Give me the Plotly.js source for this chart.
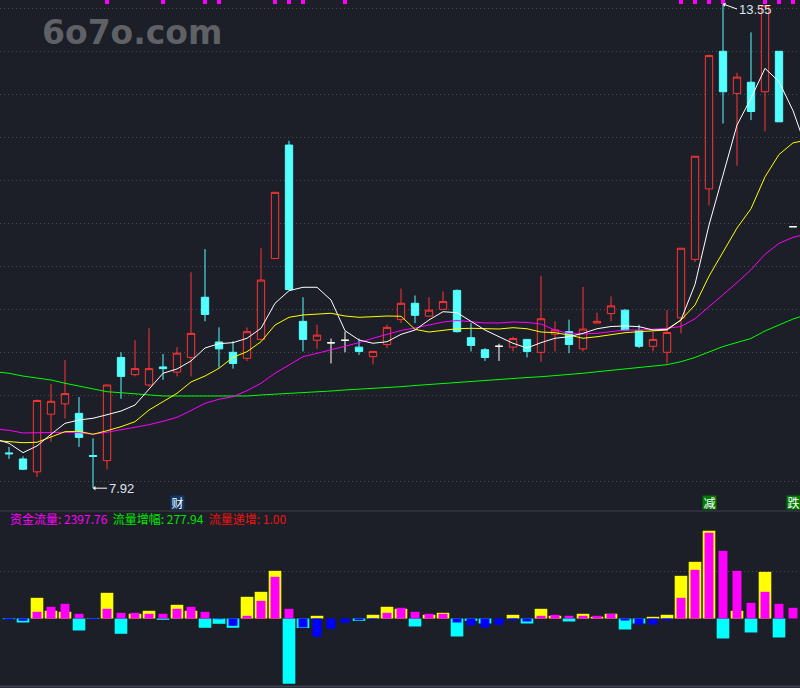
<!DOCTYPE html>
<html><head><meta charset="utf-8">
<script src="https://cdn.plot.ly/plotly-3.0.1.min.js"></script>
<style>html,body{margin:0;padding:0;background:#1c1f27;}#chart{width:800px;height:688px;}</style>
</head><body><div id="chart"></div>
<script>
// ---------- data ----------
const days = [0,1,2,3,4,5,6,7,8,9,10,11,12,13,14,15,16,17,18,19,20,21,22,23,24,25,26,27,28,29,30,31,32,33,34,35,36,37,38,39,40,41,42,43,44,45,46,47,48,49,50,51,52,53,54,55,56];
const open  = [8.33,8.26,8.11,8.78,8.90,8.79,8.30,8.24,9.44,9.24, 9.12,9.33,9.27,9.44,10.14,9.62,9.50,9.43,9.65,10.59, 11.91,9.86,9.64,9.61,9.64,9.56,9.45,9.59,9.88,10.07, 9.92,10.00,10.22,9.67,9.53,9.57,9.56,9.65,9.50,9.71, 9.74,9.54,9.84,9.95,9.99,9.75,9.57,9.50,9.90,10.58, 11.40,13.00,12.51,12.64,12.53,13.00,10.96];
const high  = [8.40,8.29,8.95,9.13,9.41,8.98,8.50,9.12,9.50,9.64, 9.78,9.48,9.56,10.43,10.70,9.79,9.63,9.79,10.71,11.36, 11.96,10.14,9.82,9.66,9.74,9.66,9.51,9.82,10.24,10.16, 10.14,10.21,10.23,9.84,9.55,9.60,9.68,9.65,10.39,9.86, 9.88,10.26,9.96,10.15,10.00,9.82,9.74,9.99,10.71,11.78, 12.96,13.55,12.75,13.22,13.53,13.00,10.96];
const low   = [8.26,8.13,8.05,8.46,8.73,8.40,7.92,8.14,8.96,9.22, 9.10,9.18,9.22,9.22,9.86,9.32,9.31,9.40,9.64,10.59, 10.22,9.51,9.54,9.37,9.50,9.47,9.36,9.55,9.84,9.84, 9.92,10.00,9.73,9.51,9.40,9.40,9.51,9.44,9.39,9.51, 9.49,9.51,9.84,9.86,9.76,9.55,9.51,9.37,9.72,10.55, 11.21,12.16,11.67,12.20,12.07,12.18,10.96];
const close = [8.32,8.14,8.94,8.93,9.02,8.51,8.29,9.12,9.22,9.31, 9.31,9.31,9.49,9.72,9.94,9.54,9.37,9.74,10.34,11.36, 10.23,9.65,9.70,9.61,9.64,9.51,9.51,9.79,10.07,9.93, 9.99,10.09,9.74,9.58,9.44,9.57,9.66,9.51,9.89,9.76, 9.59,9.77,9.86,10.04,9.76,9.57,9.65,9.73,10.71,11.78, 12.95,12.53,12.70,12.30,13.53,12.18,10.96];

// moving averages (days -1 .. 57, ends run off the chart edges)
const maDays = [-1,0,1,2,3,4,5,6,7,8,9,10,11,12,13,14,15,16,17,18,19,20,21,22,23,24,25,26,27,28,29,30,31,32,33,34,35,36,37,38,39,40,41,42,43,44,45,46,47,48,49,50,51,52,53,54,55,56,57];
const ma5  = [8.492,8.442,8.333,8.411,8.547,8.674,8.713,8.733,8.774,8.817, 8.887,9.07,9.256,9.306,9.399,9.550,9.600,9.612,9.663,9.779, 10.070,10.216,10.256,10.256,10.108,9.751,9.643,9.605,9.623,9.709, 9.759,9.876,9.972,9.961,9.856,9.759,9.681,9.605,9.550,9.612, 9.663,9.681,9.721,9.774,9.800,9.806,9.798,9.759,9.767,9.876, 10.29,10.98,11.56,12.143,12.454,12.802,12.647,12.31,11.852];
const ma10 = [8.474,8.465,8.449,8.454,8.512,8.577,8.581,8.547,8.588,8.635, 8.693,8.829,8.926,9.023,9.155,9.224,9.314,9.442,9.507,9.623, 9.817,9.907,9.934,9.945,9.954,9.922,9.907,9.914,9.922,9.919, 9.767,9.736,9.756,9.774,9.779,9.771,9.771,9.786,9.774,9.736, 9.728,9.701,9.663,9.681,9.709,9.728,9.740,9.748,9.759,9.876, 10.05,10.385,10.665,10.945,11.17,11.54,11.80,11.935,11.969];
const ma20 = [8.608,8.593,8.562,8.565,8.562,8.570,8.565,8.547,8.570,8.597, 8.623,8.658,8.698,8.744,8.823,8.907,8.954,8.984,9.054,9.140, 9.256,9.352,9.449,9.488,9.527,9.565,9.612,9.663,9.709,9.754, 9.783,9.817,9.852,9.870,9.858,9.841,9.841,9.852,9.847,9.829, 9.759,9.719,9.713,9.721,9.740,9.759,9.759,9.767,9.779,9.80, 9.89,10.030,10.165,10.31,10.46,10.64,10.767,10.837,10.876];
const ma60 = [9.274,9.256,9.224,9.205,9.178,9.140,9.108,9.070,9.042,9.030, 9.015,9.000,8.992,8.992,8.988,8.992,8.992,8.992,8.992,9.004, 9.012,9.023,9.035,9.042,9.050,9.062,9.070,9.077,9.088,9.100, 9.114,9.126,9.137,9.149,9.163,9.178,9.190,9.198,9.207,9.216, 9.228,9.240,9.256,9.274,9.291,9.306,9.321,9.335,9.356,9.391, 9.440,9.504,9.567,9.614,9.661,9.748,9.814,9.887,9.940];

// lower panel: fund flow (wide bars) and flow change (narrow bars)
const flowWide   = [-157,-896,4637,1725,1501,-2688,-112,5757,-3427,1053, 1725,-291,3069,1725,-2083,-1187,-2083,4861,5981,10685, -14627,-2128,605,0,0,-515,829,2621,2173,-1792, 829,1277,-4032,-515,-1120,0,829,-1120,2173,605, -672,1053,381,1053,-2464,-1120,381,829,9565,12701, 19645,-4480,1725,-3136,10461,-4256,0];
const flowNarrow = [-336,-515,1501,2621,3293,1053,-224,2173,1277,1277, 1053,1053,2173,2621,1501,-157,-1635,605,3965,9341, 2173,-2016,-4099,-2307,-963,-381,-224,1277,2397,1501, 1053,1053,-896,-1568,-2016,-1411,-448,-672,605,829, 605,605,605,1053,-448,-1344,-1344,-448,4637,10909, 19197,15165,10685,3517,5981,3293,2397.76];
const flowGrowth = 277.94;
const flowIncrement = 1.00;

// signals
const signalDays = [7,11,14,15,19,20,21,24,48,49,50,51,54,55,56];
const tagDays  = [12,50,56];
const tagTexts = ['财','减','跌'];
const hiDay = 51, loDay = 6;

// ---------- styles ----------
const BG='#1c1f27', RED='#ff3434', CYAN='#54ffff', GRID='#4a4e58';
const H=688, SPLIT=511;

function pick(idx, arr){ return idx.map(i=>arr[i]); }
const upIdx   = days.filter(i=>close[i]>open[i]);
const downIdx = days.filter(i=>close[i]<open[i]);
const flatIdx = days.filter(i=>close[i]===open[i]);

function candle(idx, lineColor, fill){
  return {type:'candlestick', x:pick(idx,days), open:pick(idx,open), high:pick(idx,high), low:pick(idx,low), close:pick(idx,close),
    increasing:{line:{color:lineColor,width:1},fillcolor:fill}, decreasing:{line:{color:lineColor,width:1},fillcolor:fill},
    whiskerwidth:0, hoverinfo:'skip', showlegend:false, xaxis:'x', yaxis:'y'};
}
function maLine(y,color){
  return {type:'scatter',mode:'lines',x:maDays,y:y,line:{color:color,width:1},hoverinfo:'skip',showlegend:false,xaxis:'x',yaxis:'y'};
}

const traces = [
  candle(upIdx, RED, BG),
  candle(downIdx, CYAN, CYAN),
  candle(flatIdx, '#ffffff', '#ffffff'),
  maLine(ma60,'#00ff00'),
  maLine(ma20,'#ff00ff'),
  maLine(ma10,'#ffff00'),
  maLine(ma5,'#ffffff'),
  {type:'scatter',mode:'markers',x:signalDays,y:signalDays.map(()=>0.996),marker:{symbol:'square',size:4,color:'#ff00ff',line:{width:0}},
   hoverinfo:'skip',showlegend:false,xaxis:'x',yaxis:'y3'},
  {type:'bar',x:days,y:flowWide,width:0.9,marker:{color:flowWide.map(v=>v>=0?'#ffff00':'#00ffff'),line:{width:0}},
   hoverinfo:'skip',showlegend:false,xaxis:'x',yaxis:'y2'},
  {type:'bar',x:days,y:flowNarrow,width:0.64,marker:{color:flowNarrow.map(v=>v>=0?'#ff00ff':'#0000ff'),line:{width:0}},
   hoverinfo:'skip',showlegend:false,xaxis:'x',yaxis:'y2'}
];

const botFrac = (H-SPLIT)/H;
// price <-> pixel: 13.5 at y=8.3, 86 px per unit
const pTop = 13.5 + 8.3/86, pBot = 13.5 - (SPLIT-8.3)/86;
// flow panel: zero at y=618.5, 224.1 per px
const fZero=618.5, fUnit=224.1;

const annotations = [
  {xref:'paper',yref:'paper',x:40/800,y:1-33/H,xanchor:'left',yanchor:'middle',showarrow:false,
   text:'<b>6o7o.com</b>',font:{family:'DejaVu Sans',size:33,color:'#5f6166'}},
  {xref:'x',yref:'y',x:hiDay,y:high[hiDay],text:high[hiDay].toFixed(2),showarrow:true,arrowhead:1,arrowsize:0.8,arrowwidth:1,arrowcolor:'#ffffff',
   ax:14,ay:5,xanchor:'left',yanchor:'middle',standoff:0,font:{family:'Liberation Sans',size:13,color:'#dde4ee'}},
  {xref:'x',yref:'y',x:loDay,y:low[loDay],text:low[loDay].toFixed(2),showarrow:true,arrowhead:1,arrowsize:0.8,arrowwidth:1,arrowcolor:'#ffffff',
   ax:14,ay:0,xanchor:'left',yanchor:'middle',standoff:0,font:{family:'Liberation Sans',size:13,color:'#dde4ee'}},
  {xref:'paper',yref:'paper',x:8/800,y:1-518.5/H,xanchor:'left',yanchor:'middle',showarrow:false,
   font:{family:'Noto Sans CJK SC',size:12},
   text:'<span style="color:#ff00ff">资金流量: '+flowNarrow[flowNarrow.length-1].toFixed(2)+'</span>  '+
        '<span style="color:#00e400">流量增幅: '+flowGrowth.toFixed(2)+'</span>  '+
        '<span style="color:#ee1111">流量递增: '+flowIncrement.toFixed(2)+'</span>'}
];
tagDays.forEach((d,i)=>{
  annotations.push({xref:'x',yref:'paper',x:d,y:1-502.5/H,text:tagTexts[i],showarrow:false,width:13,height:13,borderpad:0,
    bgcolor: i===0?'#0d3868':'#007a00',font:{family:'Noto Sans CJK SC',size:12,color:'#ffffff'},xanchor:'center',yanchor:'middle'});
});

const layout = {
  width:800,height:688,margin:{l:0,r:0,t:0,b:0},paper_bgcolor:BG,plot_bgcolor:BG,showlegend:false,
  barmode:'overlay',boxgap:0.25,
  xaxis:{range:[-9/14,(800-9)/14],showgrid:false,zeroline:false,showticklabels:false,ticks:'',rangeslider:{visible:false},fixedrange:true},
  yaxis:{domain:[botFrac,1],range:[pBot,pTop],tickvals:[8,9,9.5,10,10.5,11,11.5,12,12.5,13,13.5],showgrid:true,gridcolor:GRID,griddash:'1px,3px',gridwidth:1,
    zeroline:false,showticklabels:false,ticks:''},
  yaxis3:{domain:[botFrac,1],range:[0,1],overlaying:'y',visible:false},
  yaxis2:{domain:[0,botFrac],range:[-(H-fZero)*fUnit,(fZero-SPLIT)*fUnit],tickvals:[(fZero-571)*fUnit],showgrid:true,gridcolor:GRID,griddash:'1px,3px',
    zeroline:false,showticklabels:false,ticks:''},
  shapes:[
    {type:'line',xref:'paper',yref:'paper',x0:0,x1:1,y0:botFrac,y1:botFrac,line:{color:'#3b404c',width:1}},
    {type:'line',xref:'paper',yref:'paper',x0:0,x1:1,y0:1.5/H,y1:1.5/H,line:{color:'#3b404c',width:2}}
  ],
  annotations:annotations
};
Plotly.newPlot('chart',traces,layout,{staticPlot:true,displayModeBar:false});
</script></body></html>
